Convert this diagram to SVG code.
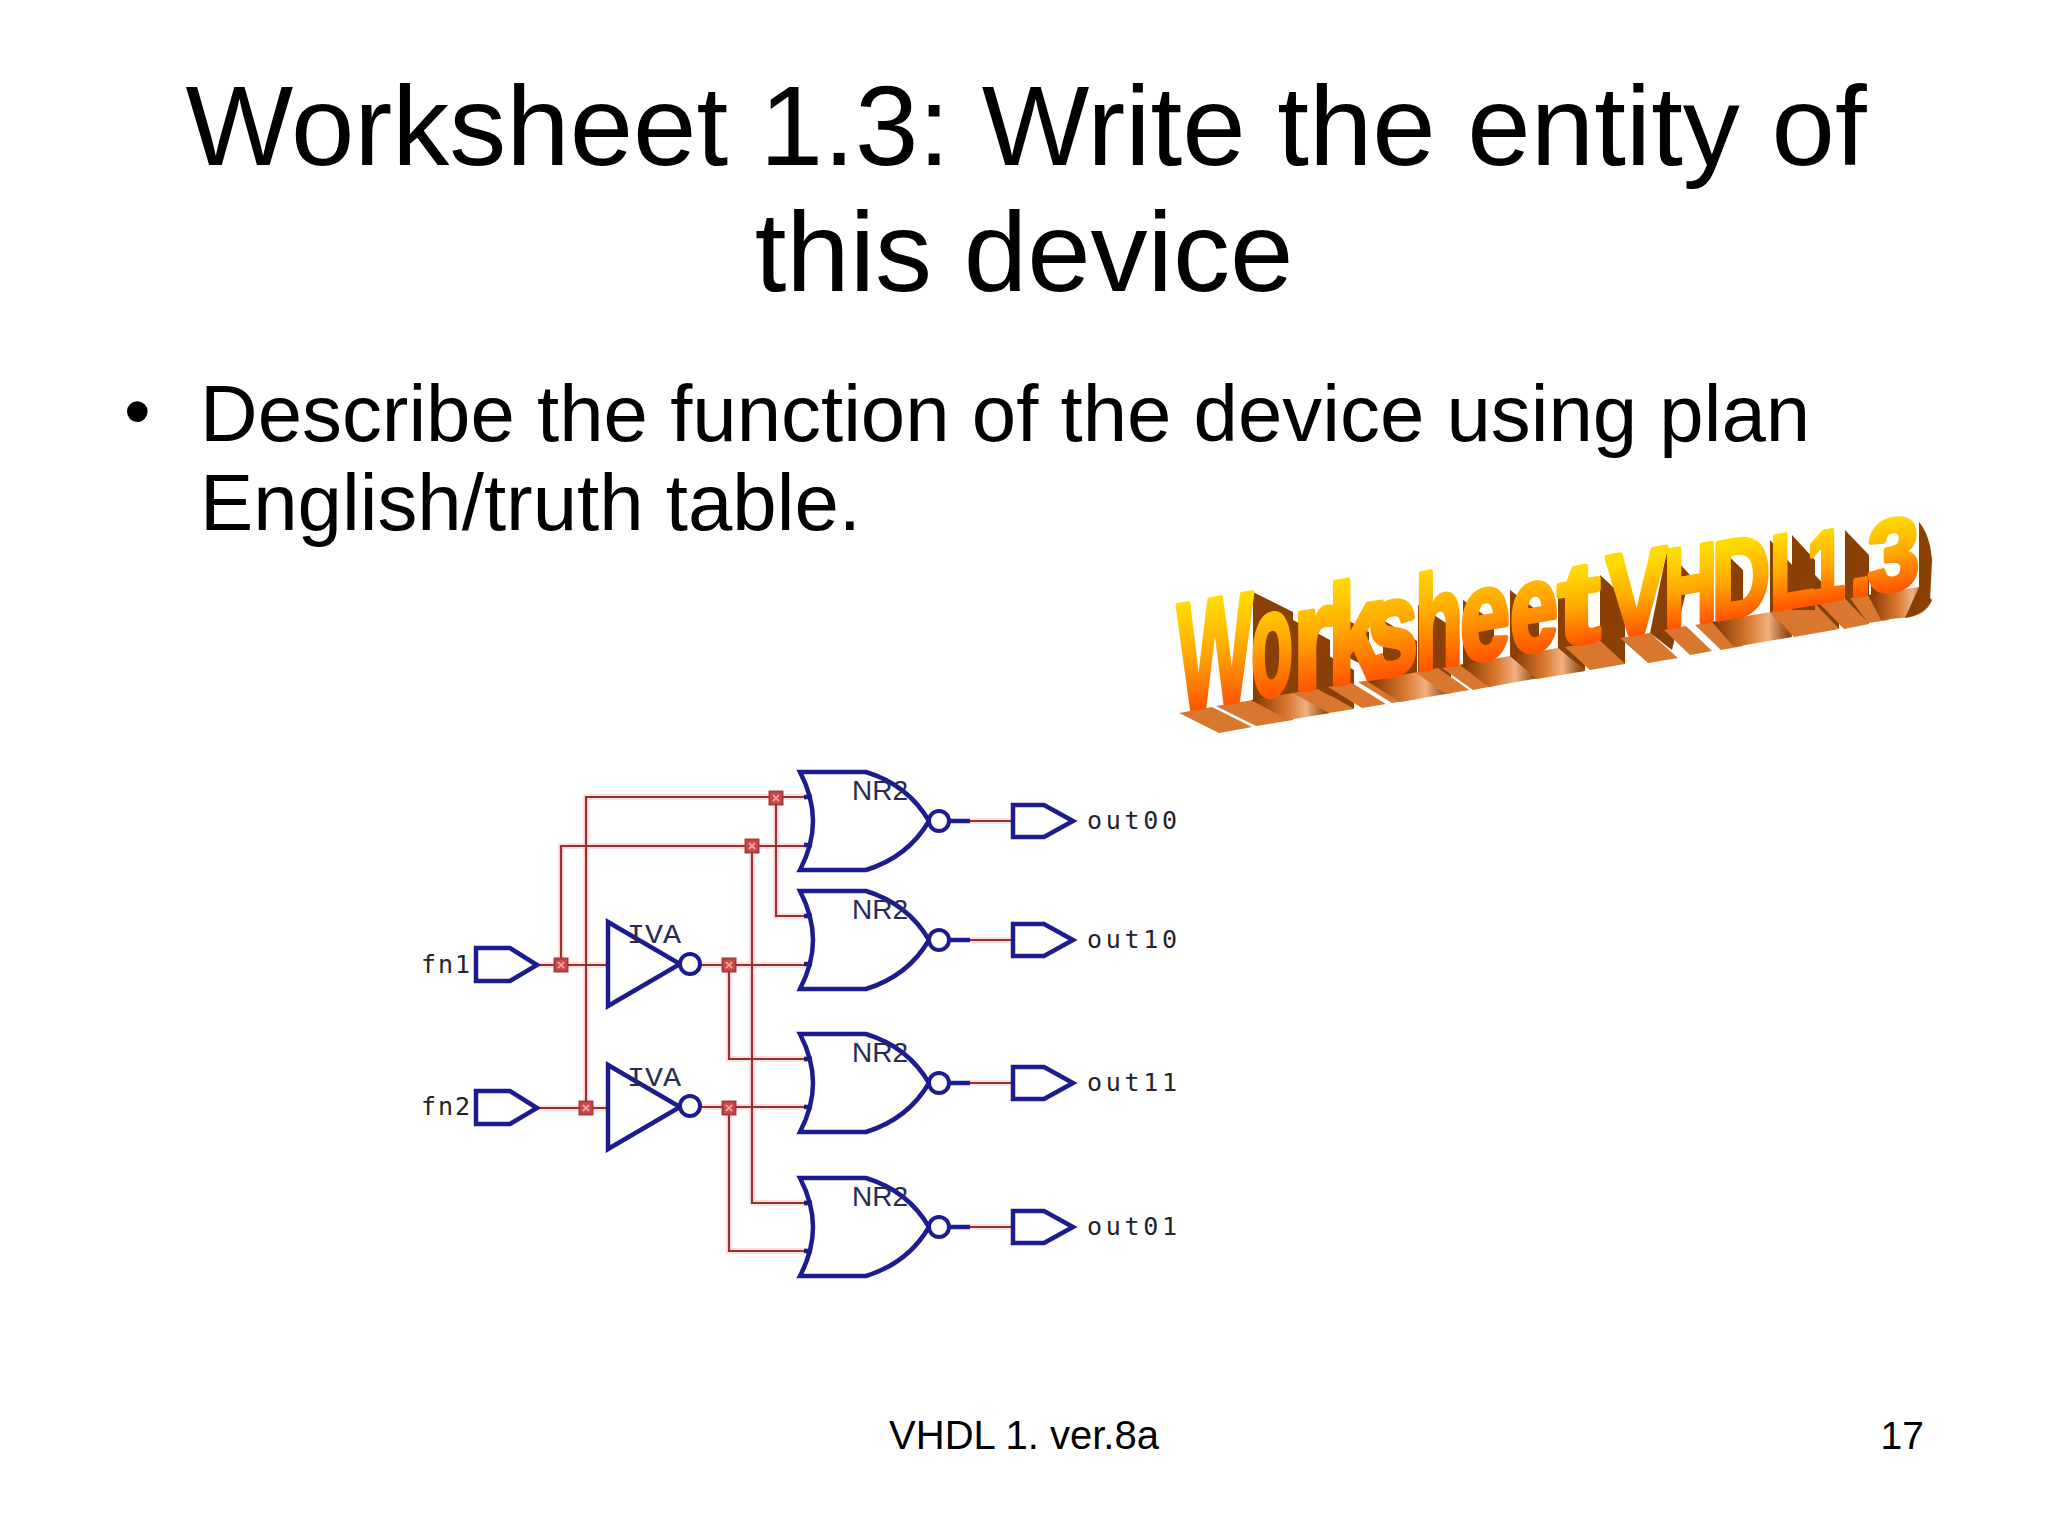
<svg xmlns="http://www.w3.org/2000/svg" xmlns:xlink="http://www.w3.org/1999/xlink" width="2048" height="1536" viewBox="0 0 2048 1536">
<style>
.t{font-family:"Liberation Sans",Arial,sans-serif;fill:#000}
.w{fill:none;stroke:#9a2f32;stroke-width:2.2}
.h{fill:none;stroke:#ffc9c9;stroke-width:6;opacity:.55}
.b{fill:none;stroke:#1c1c8e;stroke-width:4.5;stroke-linejoin:miter}
.bub{fill:#fff;stroke:#1c1c8e;stroke-width:4}
.j{fill:#cf4a4a;stroke:#a83a3a;stroke-width:2}
.jx{fill:none;stroke:#f3b0a8;stroke-width:1.6}
.lab{font-family:"DejaVu Sans Mono","Liberation Mono",monospace;fill:#23232e;font-size:25px}
.gl{font-family:"Liberation Sans",Arial,sans-serif;fill:#2a2a55;font-size:28px}
.iv{font-family:"Liberation Mono",monospace;fill:#2a2a55;font-size:28px}
.sd{fill:#8a4003}
.bt{fill:#d9772e}
.cv{fill:url(#cv)}
</style>
<defs>
<linearGradient id="wa1" gradientUnits="userSpaceOnUse" x1="0" y1="803" x2="0" y2="913"><stop offset="0" stop-color="#ffdf00"/><stop offset=".5" stop-color="#ffa800"/><stop offset="1" stop-color="#ff5500"/></linearGradient>
<linearGradient id="wa2" gradientUnits="userSpaceOnUse" x1="0" y1="838" x2="0" y2="913"><stop offset="0" stop-color="#ffdc00"/><stop offset=".5" stop-color="#ffa800"/><stop offset="1" stop-color="#ff5500"/></linearGradient>
<linearGradient id="cv" x1="0" y1="0" x2="1" y2="0"><stop offset="0" stop-color="#7a3300"/><stop offset=".45" stop-color="#d9772e"/><stop offset=".7" stop-color="#f0b080"/><stop offset="1" stop-color="#7a3300"/></linearGradient>
<g id="gate">
<path class="b" d="M0,-49 Q13,-24 13,0 Q13,24 0,49 H66 Q108,36 129,0 Q108,-36 66,-49 Z"/>
<path class="b" d="M4,-24 H12 M4,24 H12 M149,0 H170"/>
<circle class="bub" cx="139" cy="0" r="10"/>
</g>
<path id="inv" class="b" d="M0,-42 V42 L72,0 Z"/>
<path id="inp" class="b" d="M0,-17 H34 L61,0 L34,16 H0 Z"/>
<path id="outp" class="b" d="M0,-16 H31 L60,0 L31,16 H0 Z"/>
<g id="jn"><rect class="j" x="-6.5" y="-6.5" width="13" height="13"/><path class="jx" d="M-3,-3 L3,3 M3,-3 L-3,3"/></g>
</defs>
<rect width="2048" height="1536" fill="#fff"/>
<g id="title">
<text class="t" x="1026" y="165" font-size="114" text-anchor="middle">Worksheet 1.3: Write the entity of</text>
<text class="t" x="1024" y="291" font-size="114" text-anchor="middle">this device</text>
</g>
<g id="body">
<text class="t" x="124" y="437" font-size="76">•</text>
<text class="t" x="200" y="441" font-size="79.8">Describe the function of the device using plan</text>
<text class="t" x="200" y="530" font-size="79.8">English/truth table.</text>
</g>
<g id="footer">
<text class="t" x="1024" y="1449" font-size="40" text-anchor="middle">VHDL 1. ver.8a</text>
<text class="t" x="1924" y="1449" font-size="39" text-anchor="end">17</text>
</g>
<g id="wordart">
<polygon class="bt" points="1179,713 1212,707 1252,727 1219,733"/><polygon class="bt" points="1216,706 1253,700 1293,720 1256,726"/><polygon class="sd" points="1253,592 1293,612 1293,720 1253,700"/>
<polygon class="cv" points="1251,700 1293,693 1330,713 1288,720"/><polygon class="sd" points="1293,620 1330,640 1330,713 1293,693"/>
<polygon class="bt" points="1293,693 1318,689 1354,709 1329,713"/><polygon class="sd" points="1318,650 1354,670 1354,709 1318,689"/><polygon class="sd" points="1333,612 1369,632 1369,668 1333,650"/>
<polygon class="bt" points="1328,687 1352,683 1386,704 1362,708"/><polygon class="bt" points="1358,682 1383,678 1417,699 1392,703"/><polygon class="sd" points="1383,620 1417,641 1417,699 1383,678"/>
<polygon class="cv" points="1367,681 1418,672 1451,693 1400,702"/><polygon class="sd" points="1418,605 1451,626 1451,693 1418,672"/>
<polygon class="bt" points="1415,672 1438,668 1469,690 1446,694"/><polygon class="bt" points="1442,668 1463,664 1494,686 1473,690"/><polygon class="sd" points="1463,600 1494,622 1494,686 1463,664"/>
<polygon class="cv" points="1460,665 1510,656 1539,678 1489,687"/><polygon class="sd" points="1510,590 1539,612 1539,678 1510,656"/>
<polygon class="cv" points="1510,656 1558,648 1585,671 1537,679"/><polygon class="sd" points="1558,585 1585,608 1585,671 1558,648"/>
<polygon class="bt" points="1565,647 1600,641 1625,664 1590,670"/><polygon class="sd" points="1600,575 1625,598 1625,664 1600,641"/>
<polygon class="bt" points="1620,638 1650,633 1678,658 1648,663"/><polygon class="sd" points="1667,550 1690,575 1672,650 1650,633"/>
<polygon class="bt" points="1664,630 1686,626 1712,651 1690,655"/><polygon class="bt" points="1695,625 1717,621 1743,646 1721,650"/><polygon class="sd" points="1717,545 1743,570 1743,646 1717,621"/>
<polygon class="cv" points="1712,622 1770,612 1792,637 1734,647"/><polygon class="sd" points="1770,540 1792,565 1792,637 1770,612"/>
<polygon class="bt" points="1770,612 1815,604 1839,629 1794,637"/><polygon class="sd" points="1815,575 1839,600 1839,629 1815,604"/><polygon class="sd" points="1792,535 1815,560 1815,610 1792,610"/>
<polygon class="bt" points="1820,604 1845,599 1869,624 1844,629"/><polygon class="sd" points="1845,530 1869,555 1869,624 1845,599"/>
<polygon class="bt" points="1850,598 1871,595 1889,620 1868,623"/><polygon class="sd" points="1871,572 1889,597 1889,620 1871,595"/>
<path class="cv" d="M1868,595 L1919,587 L1932,600 Q1925,618 1900,618 L1881,620 Z"/><path class="sd" d="M1919,522 Q1930,535 1932,560 L1930,600 Q1925,615 1905,618 L1919,587 Z"/>
<text transform="matrix(1,-0.17,0,1,0,0)" y="913" style="font-family:'Liberation Sans',Arial,sans-serif;font-weight:700" stroke-width="5.5" stroke-linejoin="round"><tspan x="1177" y="911" font-size="153" textLength="76" lengthAdjust="spacingAndGlyphs" fill="url(#wa1)" stroke="url(#wa1)">W</tspan><tspan x="1251" y="911" font-size="150" textLength="42" lengthAdjust="spacingAndGlyphs" fill="url(#wa1)" stroke="url(#wa1)">o</tspan><tspan x="1293" y="911" font-size="145" textLength="40" lengthAdjust="spacingAndGlyphs" fill="url(#wa1)" stroke="url(#wa1)">r</tspan><tspan x="1328" y="911" font-size="140" textLength="55" lengthAdjust="spacingAndGlyphs" fill="url(#wa1)" stroke="url(#wa1)">k</tspan><tspan x="1367" y="911" font-size="135" textLength="51" lengthAdjust="spacingAndGlyphs" fill="url(#wa1)" stroke="url(#wa1)">s</tspan><tspan x="1415" y="911" font-size="132" textLength="48" lengthAdjust="spacingAndGlyphs" fill="url(#wa1)" stroke="url(#wa1)">h</tspan><tspan x="1460" y="911" font-size="128" textLength="50" lengthAdjust="spacingAndGlyphs" fill="url(#wa1)" stroke="url(#wa1)">e</tspan><tspan x="1510" y="911" font-size="124" textLength="48" lengthAdjust="spacingAndGlyphs" fill="url(#wa1)" stroke="url(#wa1)">e</tspan><tspan x="1558" y="911" font-size="115" textLength="42" lengthAdjust="spacingAndGlyphs" fill="url(#wa2)" stroke="url(#wa2)">t</tspan> <tspan x="1606" y="911" font-size="117" textLength="61" lengthAdjust="spacingAndGlyphs" fill="url(#wa2)" stroke="url(#wa2)">V</tspan><tspan x="1664" y="911" font-size="111" textLength="53" lengthAdjust="spacingAndGlyphs" fill="url(#wa2)" stroke="url(#wa2)">H</tspan><tspan x="1712" y="911" font-size="110" textLength="58" lengthAdjust="spacingAndGlyphs" fill="url(#wa2)" stroke="url(#wa2)">D</tspan><tspan x="1770" y="911" font-size="105" textLength="45" lengthAdjust="spacingAndGlyphs" fill="url(#wa2)" stroke="url(#wa2)">L</tspan><tspan x="1807" y="911" font-size="100" textLength="38" lengthAdjust="spacingAndGlyphs" fill="url(#wa2)" stroke="url(#wa2)">1</tspan><tspan x="1850" y="911" font-size="100" textLength="21" lengthAdjust="spacingAndGlyphs" fill="url(#wa2)" stroke="url(#wa2)">.</tspan><tspan x="1868" y="911" font-size="100" textLength="51" lengthAdjust="spacingAndGlyphs" fill="url(#wa2)" stroke="url(#wa2)">3</tspan></text>
</g>
<g id="connectors">
<path class="h" d="M537,965 H608 M561,965 V846 H809 M537,1108 H608 M586,1108 V797 H809 M700,965 H809 M729,965 V1059 H809 M700,1107 H809 M729,1107 V1251 H809 M752,846 V1203 H809 M776,797 V916 H809 M970,821 H1013 M970,940 H1013 M970,1083 H1013 M970,1227 H1013"/>
<path class="w" d="M537,965 H608 M561,965 V846 H809 M537,1108 H608 M586,1108 V797 H809 M700,965 H809 M729,965 V1059 H809 M700,1107 H809 M729,1107 V1251 H809 M752,846 V1203 H809 M776,797 V916 H809 M970,821 H1013 M970,940 H1013 M970,1083 H1013 M970,1227 H1013"/>
<use href="#jn" x="561" y="965"/><use href="#jn" x="586" y="1108"/><use href="#jn" x="729" y="965"/><use href="#jn" x="729" y="1108"/><use href="#jn" x="752" y="846"/><use href="#jn" x="776" y="798"/>
</g>
<g id="fn1"><use href="#inp" x="476" y="965"/><text class="lab" x="421" y="973" textLength="49" lengthAdjust="spacing">fn1</text></g>
<g id="fn2"><use href="#inp" x="476" y="1108"/><text class="lab" x="421" y="1115" textLength="49" lengthAdjust="spacing">fn2</text></g>
<g id="inv1"><use href="#inv" x="608" y="964"/><circle class="bub" cx="690" cy="964" r="10"/><text class="iv" x="627" y="943" textLength="54" lengthAdjust="spacingAndGlyphs">IVA</text></g>
<g id="inv2"><use href="#inv" x="608" y="1107"/><circle class="bub" cx="690" cy="1106" r="10"/><text class="iv" x="627" y="1086" textLength="54" lengthAdjust="spacingAndGlyphs">IVA</text></g>
<g id="nor1"><use href="#gate" x="800" y="821"/><text class="gl" x="852" y="800" textLength="56" lengthAdjust="spacing">NR2</text></g>
<g id="nor2"><use href="#gate" x="800" y="940"/><text class="gl" x="852" y="919" textLength="56" lengthAdjust="spacing">NR2</text></g>
<g id="nor3"><use href="#gate" x="800" y="1083"/><text class="gl" x="852" y="1062" textLength="56" lengthAdjust="spacing">NR2</text></g>
<g id="nor4"><use href="#gate" x="800" y="1227"/><text class="gl" x="852" y="1206" textLength="56" lengthAdjust="spacing">NR2</text></g>
<g id="out00"><use href="#outp" x="1013" y="821"/><text class="lab" x="1087" y="829" textLength="90" lengthAdjust="spacing">out00</text></g>
<g id="out10"><use href="#outp" x="1013" y="940"/><text class="lab" x="1087" y="948" textLength="90" lengthAdjust="spacing">out10</text></g>
<g id="out11"><use href="#outp" x="1013" y="1083"/><text class="lab" x="1087" y="1091" textLength="90" lengthAdjust="spacing">out11</text></g>
<g id="out01"><use href="#outp" x="1013" y="1227"/><text class="lab" x="1087" y="1235" textLength="90" lengthAdjust="spacing">out01</text></g>
</svg>
